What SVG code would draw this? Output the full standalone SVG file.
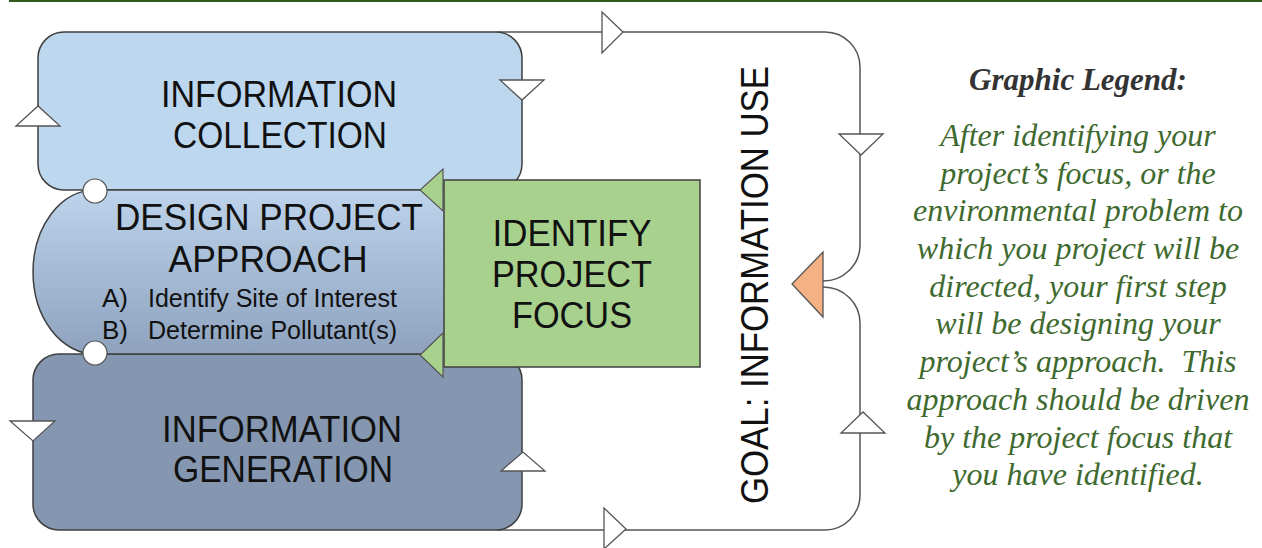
<svg xmlns="http://www.w3.org/2000/svg" width="1262" height="548" viewBox="0 0 1262 548">
<style>
.box{stroke:#3f3f3f;stroke-width:1.5}
.lbl{font-family:"Liberation Sans",Arial,sans-serif;fill:#111;text-anchor:middle}
.sub{font-family:"Liberation Sans",Arial,sans-serif;fill:#111;font-size:26px}
.conn{fill:none;stroke:#555;stroke-width:1.5}
.tri{fill:#fff;stroke:#555;stroke-width:1.3}
.gtri{fill:#a9d18e;stroke:#555;stroke-width:1.2}
.leg{font-family:"Liberation Serif","Times New Roman",serif;font-style:italic;font-size:32px;fill:#3f6a2f;text-anchor:middle}
</style>
<defs>
<linearGradient id="midg" x1="0" y1="0" x2="0" y2="1">
<stop offset="0" stop-color="#bdd4ec"/>
<stop offset="1" stop-color="#8ea2bd"/>
</linearGradient>
</defs>
<rect x="9" y="0" width="1253" height="2" fill="#2f5a1c"/>

<g id="connectors">
<path class="conn" d="M497,32 H825 A35,35 0 0 1 860,67 V245 A37,36 0 0 1 823,281"/>
<path class="conn" d="M823,287 A37,36 0 0 1 860,323 V495 A35,35 0 0 1 825,530 H497"/>
<polygon class="tri" points="602,12 602,53 623,32"/>
<polygon class="tri" points="604,508 604,549 626,529"/>
<polygon class="tri" points="839,134 883,134 861,155"/>
<polygon class="tri" points="841,433 885,433 863,412"/>
</g>

<g id="info-collection">
<rect class="box" x="38" y="32" width="484" height="158" rx="26" fill="#bdd7ee"/>
<text class="lbl" x="279" y="107" font-size="36" textLength="236" lengthAdjust="spacingAndGlyphs">INFORMATION</text>
<text class="lbl" x="280" y="148" font-size="36" textLength="214" lengthAdjust="spacingAndGlyphs">COLLECTION</text>
<polygon class="tri" points="500,80 544,80 522,100"/>
<polygon class="tri" points="16,126 60,126 38,106"/>
</g>

<g id="info-generation">
<rect class="box" x="33" y="354" width="489" height="176" rx="26" fill="#8597b0"/>
<text class="lbl" x="282" y="442" font-size="36" textLength="240" lengthAdjust="spacingAndGlyphs">INFORMATION</text>
<text class="lbl" x="283" y="482" font-size="36" textLength="220" lengthAdjust="spacingAndGlyphs">GENERATION</text>
<polygon class="tri" points="10,421 55,421 33,441"/>
<polygon class="tri" points="501,471 545,471 523,452"/>
</g>

<g id="design-approach">
<path class="box" d="M95,190 H520 V354 H95 A62,82 0 0 1 95,190 Z" fill="url(#midg)"/>
<circle cx="95" cy="191" r="12" fill="#fff" stroke="#555" stroke-width="1.2"/>
<circle cx="95" cy="353" r="12" fill="#fff" stroke="#555" stroke-width="1.2"/>
<text class="lbl" x="269" y="230" font-size="36" textLength="308" lengthAdjust="spacingAndGlyphs">DESIGN PROJECT</text>
<text class="lbl" x="268" y="272" font-size="36" textLength="199" lengthAdjust="spacingAndGlyphs">APPROACH</text>
<text class="sub" x="102" y="307">A)</text>
<text class="sub" x="148" y="307" textLength="249" lengthAdjust="spacingAndGlyphs">Identify Site of Interest</text>
<text class="sub" x="102" y="339">B)</text>
<text class="sub" x="148" y="339" textLength="249" lengthAdjust="spacingAndGlyphs">Determine Pollutant(s)</text>
</g>

<g id="identify-focus">
<rect class="box" x="444" y="180" width="256" height="187" fill="#a9d18e"/>
<polygon class="gtri" points="443,169 443,211 420,190"/>
<polygon class="gtri" points="443,333 443,377 420,355"/>
<text class="lbl" x="572" y="246" font-size="37" textLength="159" lengthAdjust="spacingAndGlyphs">IDENTIFY</text>
<text class="lbl" x="572" y="287" font-size="37" textLength="160" lengthAdjust="spacingAndGlyphs">PROJECT</text>
<text class="lbl" x="572" y="328" font-size="37" textLength="120" lengthAdjust="spacingAndGlyphs">FOCUS</text>
</g>

<g id="goal">
<text class="lbl" transform="translate(768,285) rotate(-90)" x="0" y="0" font-size="38" textLength="438" lengthAdjust="spacingAndGlyphs">GOAL: INFORMATION USE</text>
<polygon points="823,252 823,317 792,284" fill="#f4b183" stroke="#555" stroke-width="1.3"/>
</g>

<g id="legend">
<text x="1078" y="90" font-family="'Liberation Serif','Times New Roman',serif" font-style="italic" font-weight="bold" font-size="31" fill="#333" text-anchor="middle">Graphic Legend:</text>
<text class="leg" x="1078" y="146">After identifying your</text>
<text class="leg" x="1078" y="184">project’s focus, or the</text>
<text class="leg" x="1078" y="221">environmental problem to</text>
<text class="leg" x="1078" y="259">which you project will be</text>
<text class="leg" x="1078" y="297">directed, your first step</text>
<text class="leg" x="1078" y="334">will be designing your</text>
<text class="leg" x="1078" y="372" xml:space="preserve">project’s approach.  This</text>
<text class="leg" x="1078" y="410">approach should be driven</text>
<text class="leg" x="1078" y="448">by the project focus that</text>
<text class="leg" x="1078" y="485">you have identified.</text>
</g>
</svg>
